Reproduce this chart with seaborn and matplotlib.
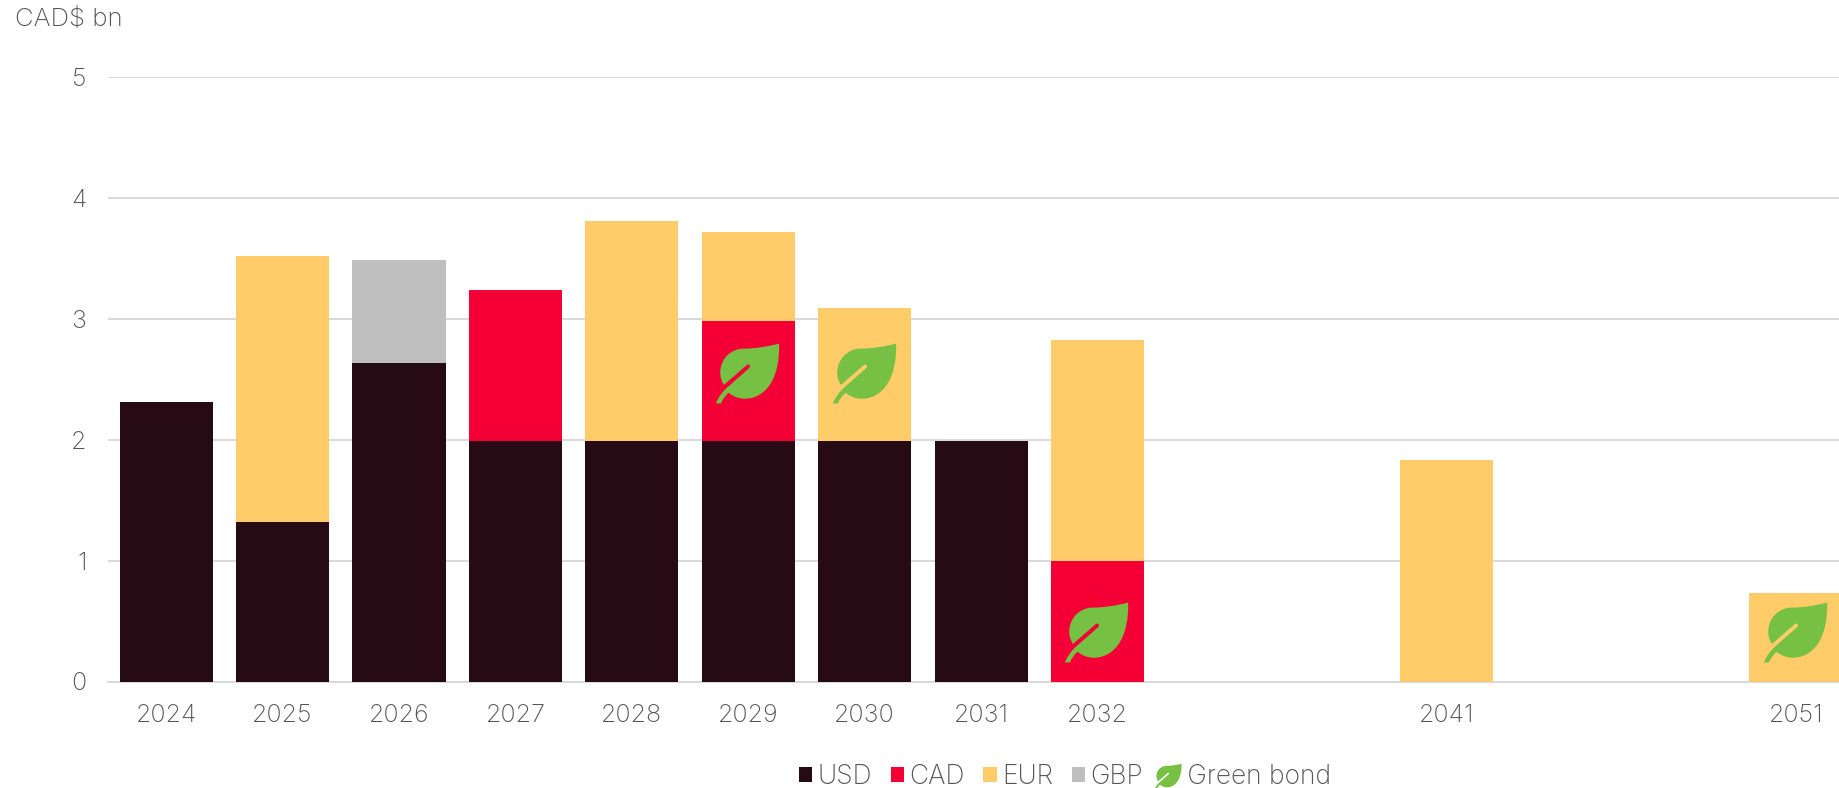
import matplotlib
matplotlib.use("Agg")
import matplotlib.pyplot as plt
from matplotlib.lines import Line2D
from matplotlib.patches import Patch
from matplotlib.path import Path
import numpy as np
import seaborn as sns

# blank slots keep the gaps between 2032, 2041 and 2051
categories = ["2024", "2025", "2026", "2027", "2028", "2029", "2030", "2031", "2032",
              " ", "  ", "2041", "   ", "    ", "2051"]
usd = [2.31, 1.32, 2.64, 1.99, 1.99, 1.99, 1.99, 1.99, 0, 0, 0, 0, 0, 0, 0]
cad = [0, 0, 0, 1.25, 0, 0.99, 0, 0, 1.00, 0, 0, 0, 0, 0, 0]
eur = [0, 2.20, 0, 0, 1.82, 0.74, 1.10, 0, 1.83, 0, 0, 1.83, 0, 0, 0.73]
gbp = [0, 0, 0.85, 0, 0, 0, 0, 0, 0, 0, 0, 0, 0, 0, 0]
yticks = [0, 1, 2, 3, 4, 5]

green_years = ["2029", "2030", "2032", "2051"]
green_levels = [2.55, 2.55, 0.41, 0.41]

series = [("USD", usd, "#260A14"), ("CAD", cad, "#F40037"),
          ("EUR", eur, "#FFCC69"), ("GBP", gbp, "#BFBFBF")]
leafColor = "#76C043"
textColor = "#555555"
gridColor = "#D9D9D9"


def leaf_marker():
    # outline traced from the icon, y runs downwards here
    moves = [
        (Path.MOVETO, [(295, 72)]),
        (Path.CURVE4, [(265, 80), (225, 87), (190, 87)]),
        (Path.CURVE4, [(150, 87), (120, 120), (120, 158)]),
        (Path.CURVE4, [(120, 172), (124, 184), (131, 195)]),
        (Path.LINETO, [(200, 135)]),
        (Path.CURVE4, [(206, 132), (212, 140), (206, 145)]),
        (Path.LINETO, [(138, 205)]),
        (Path.CURVE4, [(125, 217), (114, 233), (107, 250)]),
        (Path.LINETO, [(122, 250)]),
        (Path.CURVE4, [(127, 238), (134, 228), (145, 218)]),
        (Path.CURVE4, [(158, 230), (178, 237), (197, 236)]),
        (Path.CURVE4, [(260, 232), (298, 170), (295, 72)]),
    ]
    verts = []
    codes = []
    for code, pts in moves:
        verts.extend(pts)
        codes.extend([code] * len(pts))
    verts = np.array(verts, dtype=float)
    verts[:, 0] = (verts[:, 0] - 204) / 188
    verts[:, 1] = (161 - verts[:, 1]) / 188
    return Path(verts, codes)


if __name__ == "__main__":
    sns.set_style("white")
    plt.rcParams["font.family"] = ["Inter", "DejaVu Sans"]
    plt.rcParams["font.weight"] = "light"

    W, H = 1839, 788
    fig = plt.figure(figsize=(W / 100, H / 100), dpi=100)
    ax = fig.add_axes([108 / W, 1 - 681.5 / H, 1 - 108 / W, (681.5 - 77.4) / H])

    bottom = np.zeros(len(categories))
    for name, vals, col in series:
        sns.barplot(x=categories, y=vals, order=categories, color=col, saturation=1,
                    width=0.8, bottom=bottom, linewidth=0, ax=ax, zorder=3)
        bottom = bottom + np.array(vals)

    leaf = leaf_marker()
    xs = [categories.index(y) for y in green_years]
    ax.plot(xs, green_levels, linestyle="none", marker=leaf, markersize=47,
            markerfacecolor=leafColor, markeredgewidth=0, zorder=4)

    ax.set_xlim(-0.5, 14.37)
    ax.set_ylim(0, 5)
    ax.set_yticks(yticks)
    ax.grid(axis="y", color=gridColor, linewidth=1.4, zorder=0)
    ax.grid(axis="x", visible=False)
    ax.set_axisbelow(True)
    for s in ["top", "right", "left"]:
        ax.spines[s].set_visible(False)
    ax.spines["bottom"].set_color(gridColor)
    ax.spines["bottom"].set_linewidth(1.4)
    ax.tick_params(axis="both", length=0, labelsize=18, labelcolor=textColor)
    ax.tick_params(axis="x", pad=16.5)
    ax.tick_params(axis="y", pad=15.5)
    ax.set_xlabel("")
    ax.set_ylabel("")

    fig.text(15 / W, 1 - 19 / H, "CAD$ bn", fontsize=18.5, color=textColor, va="center", ha="left")

    handles = [Patch(facecolor=col, edgecolor="none", label=name) for name, vals, col in series]
    # leading space clears the leaf, which is wider than the legend's handle box
    handles.append(Line2D([], [], linestyle="none", marker=leaf, markersize=20,
                          markerfacecolor=leafColor, markeredgewidth=0, label=" Green bond"))
    fig.legend(handles=handles, loc="center", bbox_to_anchor=(1065 / W, 1 - 777 / H), ncol=5,
               frameon=False, fontsize=19, labelcolor=textColor, handlelength=0.5,
               handleheight=0.5, handletextpad=0.2, columnspacing=0.71, borderpad=0)

    fig.savefig("out.png", dpi=100)
